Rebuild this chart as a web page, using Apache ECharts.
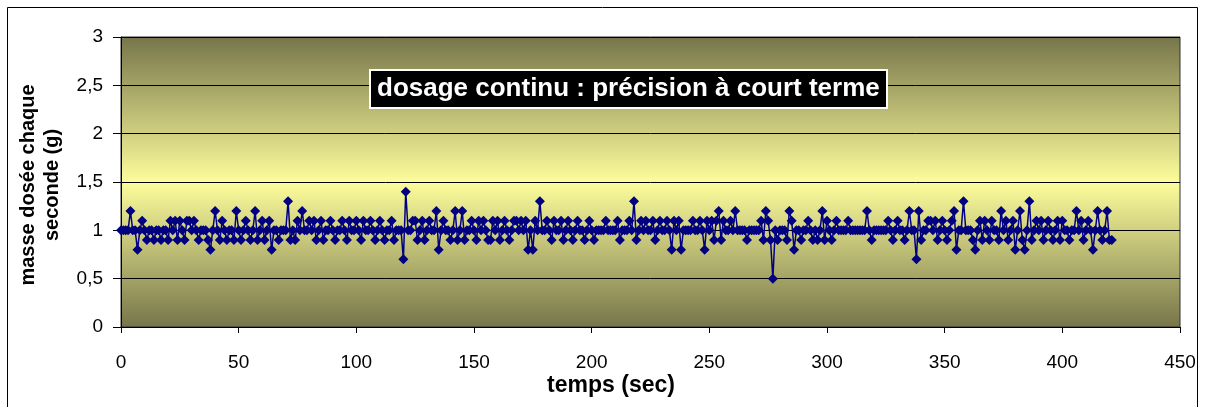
<!DOCTYPE html>
<html>
<head>
<meta charset="utf-8">
<script src="https://cdn.jsdelivr.net/npm/echarts@6/dist/echarts.min.js"></script>
<style>
html,body{margin:0;padding:0;background:#fff;}
#chart{width:1205px;height:407px;}
</style>
</head>
<body>
<div id="chart"></div>
<script>
// Data: mass dosed each second (g), one value per second starting at t = 0
var masse = [
  1, 1, 1, 1, 1.2, 1, 1, 0.8, 1, 1.1,
  1, 0.9, 1, 1, 0.9, 1, 1, 0.9, 1, 1,
  0.9, 1.1, 1, 1.1, 0.9, 1.1, 1, 0.9, 1.1, 1.1,
  1, 1.1, 1, 0.9, 1, 1, 1, 0.9, 0.8, 1,
  1.2, 1, 0.9, 1.1, 1, 0.9, 1, 1, 0.9, 1.2,
  1, 0.9, 1, 1.1, 1, 0.9, 1, 1.2, 0.9, 1,
  1.1, 0.9, 1, 1.1, 0.8, 1, 1, 0.9, 1, 1,
  1, 1.3, 0.9, 1, 0.9, 1.1, 1, 1.2, 1, 1,
  1.1, 1, 1.1, 0.9, 1, 1.1, 0.9, 1, 1, 1.1,
  1, 0.9, 1, 1, 1.1, 1, 0.9, 1.1, 1, 1,
  1.1, 1, 0.9, 1.1, 1, 1, 1.1, 1, 0.9, 1,
  1.1, 1, 0.9, 1, 1, 1.1, 0.9, 1, 1, 1,
  0.7, 1.4, 1, 1, 1.1, 1.1, 0.9, 1, 1.1, 0.9,
  1, 1.1, 1, 1, 1.2, 0.8, 1, 1.1, 1, 1,
  0.9, 1, 1.2, 0.9, 1, 1.2, 0.9, 1, 1, 1.1,
  1, 0.9, 1.1, 1, 1.1, 1, 0.9, 0.9, 1.1, 1,
  1.1, 0.9, 1, 1.1, 1, 0.9, 1, 1.1, 1.1, 1,
  1.1, 1, 1.1, 0.8, 1, 0.8, 1.1, 1, 1.3, 1,
  1, 1.1, 1, 0.9, 1.1, 1, 1, 1.1, 0.9, 1,
  1.1, 1, 0.9, 1, 1.1, 1, 1, 0.9, 1, 1.1,
  1, 0.9, 1, 1, 1, 1, 1.1, 1, 1, 1,
  1, 1.1, 0.9, 1, 1, 1, 1.1, 1, 1.3, 0.9,
  1, 1.1, 1, 1.1, 1, 1, 1.1, 0.9, 1, 1.1,
  1, 1, 1.1, 1, 0.8, 1.1, 1, 1.1, 0.8, 1,
  1, 1, 1, 1.1, 1, 1, 1.1, 1, 0.8, 1.1,
  1, 1.1, 0.9, 1.1, 1.2, 0.9, 1.1, 1, 1, 1.1,
  1, 1.2, 1, 1, 1, 1, 0.9, 1, 1, 1,
  1, 1, 1.1, 0.9, 1.2, 1.1, 0.9, 0.5, 1, 0.9,
  1, 1, 1, 0.9, 1.2, 1.1, 0.8, 1, 1, 0.9,
  1, 1, 1.1, 1, 0.9, 1, 0.9, 1, 1.2, 0.9,
  1.1, 1, 0.9, 1, 1.1, 1, 1, 1, 1, 1.1,
  1, 1, 1, 1, 1, 1, 1, 1.2, 1, 0.9,
  1, 1, 1, 1, 1, 1, 1.1, 1, 0.9, 1,
  1.1, 1, 1, 0.9, 1, 1.2, 1, 1, 0.7, 1.2,
  0.9, 1, 1, 1.1, 1.1, 1, 1.1, 0.9, 1, 1.1,
  1, 0.9, 1, 1.1, 1.2, 0.8, 1, 1, 1.3, 1,
  1, 1, 0.9, 0.8, 1, 1.1, 0.9, 1.1, 1, 0.9,
  1.1, 1, 1, 0.9, 1.2, 1, 1.1, 0.9, 1, 1.1,
  0.8, 1, 1.2, 0.9, 0.8, 1, 1.3, 0.9, 1, 1.1,
  1, 1.1, 0.9, 1, 1.1, 1, 0.9, 1, 1.1, 0.9,
  1.1, 1, 1, 0.9, 1, 1, 1.2, 1, 1.1, 0.9,
  1, 1.1, 1, 0.8, 1, 1.2, 1, 0.9, 1, 1.2,
  0.9, 0.9
];
var xTicks = [0, 50, 100, 150, 200, 250, 300, 350, 400, 450];
var yTicks = [0, 0.5, 1, 1.5, 2, 2.5, 3];
var titleText = 'dosage continu : précision à court terme';
var xTitle = 'temps (sec)';
var yTitle = 'masse dosée chaque\nseconde (g)';

var points = masse.map(function (v, i) { return [i, v]; });

var chart = echarts.init(document.getElementById('chart'));
var font = 'Arial, "Liberation Sans", sans-serif';
chart.setOption({
  animation: false,
  backgroundColor: '#ffffff',
  title: {
    text: titleText,
    left: 370,
    top: 70,
    padding: [5, 7, 5, 7],
    backgroundColor: '#000000',
    borderColor: '#ffffff',
    borderWidth: 2,
    textStyle: { color: '#ffffff', fontFamily: font, fontWeight: 'bold', fontSize: 26, lineHeight: 28 }
  },
  grid: {
    left: 121, top: 37, width: 1059, height: 290,
    show: true,
    borderColor: '#333333',
    borderWidth: 1,
    backgroundColor: {
      type: 'linear', x: 0, y: 0, x2: 0, y2: 1,
      colorStops: [
        { offset: 0, color: '#76754a' },
        { offset: 0.5, color: '#fdfd9c' },
        { offset: 1, color: '#76754a' }
      ]
    }
  },
  xAxis: {
    type: 'value',
    min: xTicks[0], max: xTicks[xTicks.length - 1], interval: 50,
    axisLine: { show: true, onZero: false, lineStyle: { color: '#000', width: 1 } },
    axisTick: { show: true, length: 6, lineStyle: { color: '#000' } },
    axisLabel: { color: '#000', fontFamily: font, fontSize: 19, margin: 26 },
    splitLine: { show: false }
  },
  yAxis: {
    type: 'value',
    min: yTicks[0], max: yTicks[yTicks.length - 1], interval: 0.5,
    axisLine: { show: true, lineStyle: { color: '#000', width: 1 } },
    axisTick: { show: true, length: 8, lineStyle: { color: '#000' } },
    axisLabel: {
      color: '#000', fontFamily: font, fontSize: 19, margin: 18,
      formatter: function (v) { return String(v).replace('.', ','); }
    },
    splitLine: { show: true, lineStyle: { color: '#000', width: 1 } }
  },
  graphic: [
    { type: 'rect', silent: true, z: -1,
      shape: { x: 7.5, y: 7.5, width: 1190, height: 420 },
      style: { fill: 'none', stroke: '#000', lineWidth: 1 } },
    { type: 'text', x: 611, y: 386, silent: true,
      style: { text: xTitle, font: 'bold 23px ' + font, fill: '#000', textAlign: 'center', textVerticalAlign: 'middle' } },
    { type: 'text', x: 40, y: 185, rotation: Math.PI / 2, silent: true,
      style: { text: yTitle, font: 'bold 20px ' + font, fill: '#000', textAlign: 'center', textVerticalAlign: 'middle', lineHeight: 24 } }
  ],
  series: [{
    type: 'line',
    data: points,
    symbol: 'diamond',
    symbolSize: 10,
    showAllSymbol: true,
    itemStyle: { color: '#000080' },
    lineStyle: { color: '#000080', width: 1.5 }
  }]
});
</script>
</body>
</html>
